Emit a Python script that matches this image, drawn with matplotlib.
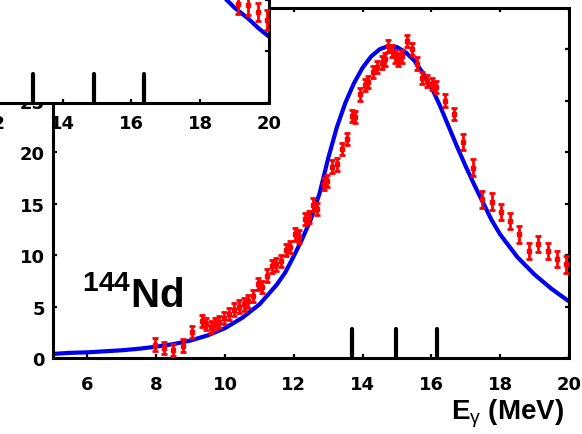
import matplotlib
matplotlib.use('Agg')
import matplotlib.pyplot as plt

# measured cross section of 144Nd (E in MeV, sigma, error)
e_data = [7.97, 8.23, 8.49, 8.78, 9.04, 9.33, 9.46, 9.58, 9.71, 9.84, 9.98, 10.12,
          10.26, 10.40, 10.54, 10.68, 10.82, 10.96, 11.09, 11.22, 11.36, 11.49, 11.62,
          11.77, 11.89, 12.04, 12.14, 12.33, 12.43, 12.56, 12.67, 12.88, 12.97, 13.12,
          13.26, 13.40, 13.55, 13.69, 13.78, 13.92, 14.06, 14.16, 14.30, 14.42, 14.56,
          14.65, 14.74, 14.85, 14.94, 15.03, 15.15, 15.29, 15.44, 15.58, 15.73, 15.87,
          16.02, 16.12, 16.40, 16.66, 16.92, 17.21, 17.47, 17.76, 18.02, 18.28, 18.55,
          18.84, 19.10, 19.39, 19.65, 19.91]
sig_data = [1.3, 1.0, 0.8, 1.2, 2.5, 3.6, 3.3, 3.0, 3.3, 3.5, 3.9, 4.3,
            4.7, 5.0, 5.2, 5.5, 6.0, 7.2, 6.9, 8.0, 8.9, 9.1, 9.4,
            10.5, 10.8, 12.0, 11.8, 13.5, 13.7, 14.9, 14.5, 16.9, 17.2, 18.6,
            18.8, 20.3, 21.3, 23.5, 23.4, 25.6, 26.5, 26.8, 27.8, 28.3, 28.7,
            29.0, 30.3, 29.8, 29.3, 29.0, 29.3, 30.8, 30.0, 28.6, 27.2, 26.9,
            26.6, 26.3, 25.0, 23.7, 21.0, 18.5, 15.4, 15.2, 14.2, 13.3, 12.0,
            10.4, 11.1, 10.4, 9.6, 9.1]
err_data = [0.6] * 60 + [0.8] * 12

# model curve
e_fit = [5.0, 5.5, 6.0, 6.5, 7.0, 7.5, 8.0, 8.5, 9.0, 9.5, 10.0, 10.5, 11.0, 11.5,
         11.75, 12.0, 12.25, 12.5, 12.75, 13.0, 13.25, 13.5, 13.75, 14.0, 14.25,
         14.5, 14.75, 15.0, 15.25, 15.5, 15.75, 16.0, 16.25, 16.5, 16.75, 17.0,
         17.25, 17.5, 17.75, 18.0, 18.5, 19.0, 19.5, 20.0]
sig_fit = [0.4, 0.5, 0.55, 0.65, 0.75, 0.9, 1.1, 1.35, 1.7, 2.2, 2.9, 3.9, 5.2, 7.1,
           8.3, 9.9, 11.6, 13.5, 16.0, 19.4, 22.4, 24.8, 26.7, 28.2, 29.3,
           30.0, 30.3, 30.2, 29.7, 28.9, 27.7, 26.3, 24.5, 22.5, 20.5, 18.6,
           16.8, 15.1, 13.4, 12.0, 9.8, 8.1, 6.7, 5.5]
e_marks = [13.70, 14.96, 16.15]

# upper panel (only its lower right corner is visible)
e_up = [19.10, 19.39, 19.67, 19.94]
sig_up = [9.6, 9.5, 8.8, 8.0]
err_up = [1.0, 1.0, 0.9, 1.0]
e_up_fit = [18.0, 18.5, 18.76, 19.0, 19.38, 19.7, 20.0]
sig_up_fit = [12.6, 11.2, 10.0, 9.2, 8.2, 7.2, 6.4]
e_up_marks = [13.14, 14.91, 16.36]

plt.rcParams['font.family'] = 'DejaVu Sans'
plt.rcParams['mathtext.fontset'] = 'custom'
plt.rcParams['mathtext.rm'] = 'Liberation Sans:bold'
plt.rcParams['mathtext.it'] = 'Liberation Sans'
plt.rcParams['mathtext.bf'] = 'Liberation Sans:bold'

fig = plt.figure(figsize=(5.82, 4.35), dpi=100)
W, H = 582, 435


def setup(ax, pad):
    ax.set_xlim(5, 20)
    ax.set_ylim(0, 34)
    ax.set_xticks(range(6, 21, 2))
    ax.set_yticks(range(0, 31, 5))
    for s in ax.spines.values():
        s.set_linewidth(2.2)
    ax.tick_params(direction='in', length=3, width=1.6, top=True, right=True,
                   labelsize=13, pad=pad)
    ax.tick_params(axis='y', pad=6)
    for lab in ax.get_xticklabels() + ax.get_yticklabels():
        lab.set_fontweight('bold')


def draw(ax, e, s, err, ef, sf, marks):
    ax.plot(ef, sf, color='#0000ee', lw=3, zorder=2)
    ax.errorbar(e, s, yerr=err, fmt='s', color='red', ms=2.5, elinewidth=2,
                capsize=2.5, capthick=2, zorder=3)
    ax.vlines(marks, 0, 2.8, color='black', lw=3, capstyle='round', zorder=4)


ax = fig.add_axes([53 / W, (H - 359) / H, 516 / W, 350 / H])
setup(ax, 12)
draw(ax, e_data, sig_data, err_data, e_fit, sig_fit, e_marks)
ax.text(5.84, 5.05, r'$^{144}$Nd', fontsize=29, fontfamily='Liberation Sans',
        fontweight='bold', va='baseline', ha='left')
ax.set_xlabel(r'E$_\gamma$ (MeV)', fontsize=20, fontfamily='Liberation Sans',
              fontweight='bold', loc='right')
ax.xaxis.set_label_coords(0.99, -0.112)

up = fig.add_axes([(269 - 516) / W, (H - 103.5) / H, 516 / W, 350 / H], zorder=3)
setup(up, 8)
draw(up, e_up, sig_up, err_up, e_up_fit, sig_up_fit, e_up_marks)

fig.savefig('out.png', dpi=100)
